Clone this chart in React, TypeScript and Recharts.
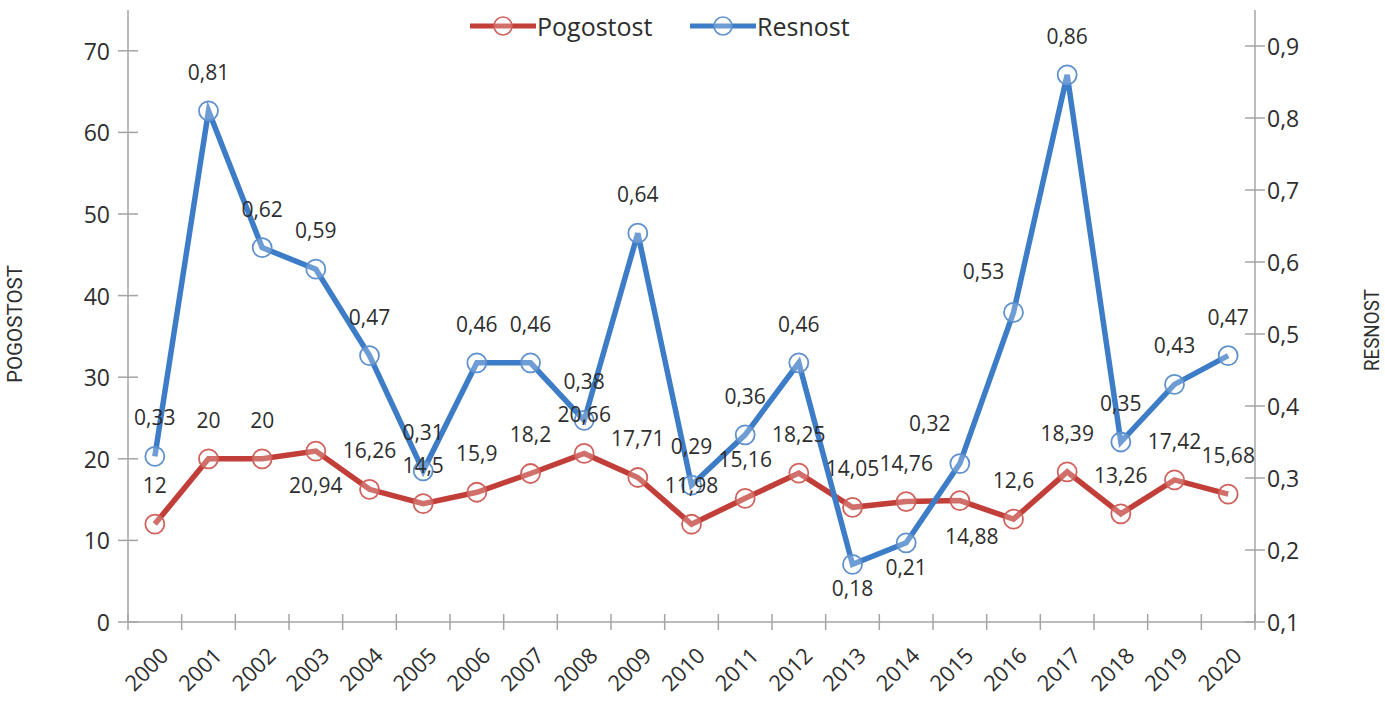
import React from 'react';
import { LineChart, Line, XAxis, YAxis, Legend, LabelList } from 'recharts';

const years = ['2000','2001','2002','2003','2004','2005','2006','2007','2008','2009','2010','2011','2012','2013','2014','2015','2016','2017','2018','2019','2020'];
const pogostost = [12,20,20,20.94,16.26,14.5,15.9,18.2,20.66,17.71,11.98,15.16,18.25,14.05,14.76,14.88,12.6,18.39,13.26,17.42,15.68];
const resnost = [0.33,0.81,0.62,0.59,0.47,0.31,0.46,0.46,0.38,0.64,0.29,0.36,0.46,0.18,0.21,0.32,0.53,0.86,0.35,0.43,0.47];
const leftTicks = [0,10,20,30,40,50,60,70];
const rightTicks = [0.1,0.2,0.3,0.4,0.5,0.6,0.7,0.8,0.9];

// label placement per point (style, not data)
const pogPlacement = ['above','above','above','below','above','above','above','above','above','above','above','above','above','above','above','belowRight','above','above','above','above','above'];
const resPlacement = ['above','above','above','above','above','above','above','above','above','above','above','above','above','below','below','aboveLeft','aboveLeft','above','above','above','above'];

const RED = '#C23F39';
const RED_M = '#D0625D';
const BLUE = '#3D7CC6';
const BLUE_M = '#5F91CE';
const AXIS = '#A4A4A4';
const TXT = '#2E2E2E';
const FONT = '"Open Sans", "Liberation Sans", sans-serif';

const data = years.map((y, i) => ({ x: i + 0.5, year: y, pog: pogostost[i], res: resnost[i] }));
const xTicks = Array.from({ length: years.length * 2 + 1 }, (_, k) => k / 2);

const offsets: Record<string, [number, number]> = {
  above: [0, -39],
  below: [0, 34],
  belowRight: [12, 35],
  aboveLeft: [-30, -41],
};

const fmt = (v: number) => String(v).replace('.', ',');

const makeLabel = (placement: string[], belowOverride?: number) => (props: any) => {
  const { x, y, value, index } = props;
  const p = placement[index] || 'above';
  let [dx, dy] = offsets[p];
  if (p === 'below' && belowOverride !== undefined) dy = belowOverride;
  return (
    <text x={x + dx} y={y + dy} textAnchor="middle" dominantBaseline="central" fontFamily={FONT} fontSize={21} fill={TXT}>
      {fmt(value)}
    </text>
  );
};

const makeDot = (color: string) => (props: any) => {
  const { cx, cy, index } = props;
  return <circle key={`d${index}`} cx={cx} cy={cy} r={9.5} fill="rgba(255,255,255,0.25)" stroke={color} strokeWidth={1.8} />;
};

const XTick = (props: any) => {
  const { x, y, payload } = props;
  const v = payload.value;
  if (Number.isInteger(v)) {
    return <line x1={x} x2={x} y1={y - 8} y2={y + 8} stroke={AXIS} strokeWidth={1.5} />;
  }
  const label = years[Math.floor(v)];
  const ax = x + 15;
  const ay = y + 35;
  return (
    <text x={ax} y={ay} transform={`rotate(-45 ${ax} ${ay})`} textAnchor="end" fontFamily={FONT} fontSize={22} fill={TXT}>
      {label}
    </text>
  );
};

const LeftTick = (props: any) => {
  const { x, y, payload } = props;
  return (
    <g>
      <line x1={x - 10} x2={x + 10} y1={y} y2={y} stroke={AXIS} strokeWidth={1.5} />
      <text x={x - 18} y={y} textAnchor="end" dominantBaseline="central" fontFamily={FONT} fontSize={23} fill={TXT}>
        {payload.value}
      </text>
    </g>
  );
};

const RightTick = (props: any) => {
  const { x, y, payload } = props;
  return (
    <g>
      <line x1={x - 10} x2={x + 10} y1={y} y2={y} stroke={AXIS} strokeWidth={1.5} />
      <text x={x + 12} y={y} textAnchor="start" dominantBaseline="central" fontFamily={FONT} fontSize={23} fill={TXT}>
        {fmt(payload.value)}
      </text>
    </g>
  );
};

const titleRenderer = (text: string, side: 'left' | 'right', len: number) => (props: any) => {
  const vb = props.viewBox || {};
  const cx = side === 'left' ? vb.x + 15 : vb.x + vb.width - 13;
  const cy = vb.y + vb.height / 2 + (side === 'left' ? 8 : 14);
  return (
    <text x={cx} y={cy} transform={`rotate(-90 ${cx} ${cy})`} textAnchor="middle" dominantBaseline="central"
      fontFamily="Roboto, sans-serif" fontWeight={400} fontSize={21} fill={TXT} textLength={len} lengthAdjust="spacingAndGlyphs">
      {text}
    </text>
  );
};

const LegendContent = () => {
  const item = (name: string, color: string, mcolor: string, width: number) => (
    <div style={{ display: 'flex', alignItems: 'center', width }}>
      <svg width={66} height={24} style={{ display: 'block' }}>
        <line x1={0} x2={66} y1={12} y2={12} stroke={color} strokeWidth={5} />
        <circle cx={33} cy={12} r={9} fill="rgba(255,255,255,0.25)" stroke={mcolor} strokeWidth={1.6} />
      </svg>
      <span style={{ fontFamily: FONT, fontSize: 25, color: TXT, marginLeft: 1, lineHeight: '30px' }}>{name}</span>
    </div>
  );
  return (
    <div style={{ display: 'flex', paddingLeft: 470 }}>
      {item('Pogostost', RED, RED_M, 220)}
      {item('Resnost', BLUE, BLUE_M, 200)}
    </div>
  );
};

export default function App() {
  return (
    <div style={{ position: 'absolute', left: 0, top: 0, width: 1385, height: 704, background: '#fff' }}>
      <LineChart width={1385} height={704} data={data} margin={{ top: 10, right: 0, bottom: 0, left: 0 }}>
        <XAxis
          dataKey="x"
          type="number"
          domain={[0, years.length]}
          ticks={xTicks}
          interval={0}
          tickSize={0}
          tickMargin={0}
          height={82}
          axisLine={{ stroke: AXIS, strokeWidth: 1.5 }}
          tickLine={false}
          tick={<XTick />}
          allowDecimals
        />
        <YAxis
          yAxisId="left"
          orientation="left"
          domain={[0, 75]}
          ticks={leftTicks}
          interval={0}
          width={128}
          tickSize={0}
          tickMargin={0}
          axisLine={{ stroke: AXIS, strokeWidth: 1.5 }}
          tickLine={false}
          tick={<LeftTick />}
          label={titleRenderer('POGOSTOST', 'left', 118)}
        />
        <YAxis
          yAxisId="right"
          orientation="right"
          domain={[0.1, 0.95]}
          ticks={rightTicks}
          interval={0}
          width={130}
          tickSize={0}
          tickMargin={0}
          axisLine={{ stroke: AXIS, strokeWidth: 1.5 }}
          tickLine={false}
          tick={<RightTick />}
          label={titleRenderer('RESNOST', 'right', 82)}
        />
        <Legend
          layout="horizontal"
          verticalAlign="middle"
          align="center"
          wrapperStyle={{ top: 11, left: 0, width: 1385, height: 30 }}
          content={<LegendContent />}
        />
        <Line
          yAxisId="left"
          dataKey="pog"
          name="Pogostost"
          stroke={RED}
          strokeWidth={5.5}
          dot={makeDot(RED_M)}
          activeDot={false}
          isAnimationActive={false}
        >
          <LabelList dataKey="pog" content={makeLabel(pogPlacement)} />
        </Line>
        <Line
          yAxisId="right"
          dataKey="res"
          name="Resnost"
          stroke={BLUE}
          strokeWidth={5.5}
          dot={makeDot(BLUE_M)}
          activeDot={false}
          isAnimationActive={false}
        >
          <LabelList dataKey="res" content={makeLabel(resPlacement, 24)} />
        </Line>
      </LineChart>
    </div>
  );
}
